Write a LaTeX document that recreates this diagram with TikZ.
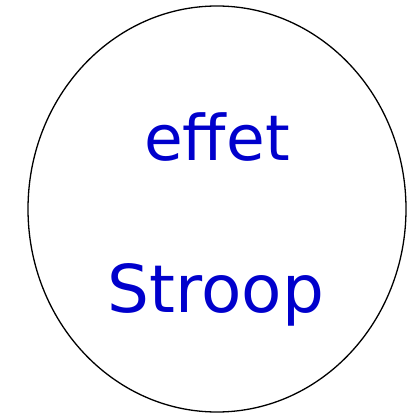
\documentclass[tikz,border=0pt]{standalone}
\usepackage{fontspec}
\setmainfont{DejaVu Sans}
\usetikzlibrary{shapes.geometric}
\definecolor{txtblue}{RGB}{0,0,204}
\begin{document}
\begin{tikzpicture}[x=1pt,y=-1pt,
  lbl/.style={anchor=base,text=txtblue,inner sep=0pt}]
\useasboundingbox (0,0) rectangle (409,414);
\node[draw,line width=1.3pt,ellipse,minimum width=378pt,minimum height=406pt,inner sep=0pt] (ell) at (217,209) {};
\node[lbl,font=\fontsize{63}{70}\selectfont] (t1) at (217,160) {effet};
\node[lbl,font=\fontsize{66}{72}\selectfont] (t2) at (216,312) {Stroop};
\end{tikzpicture}
\end{document}
